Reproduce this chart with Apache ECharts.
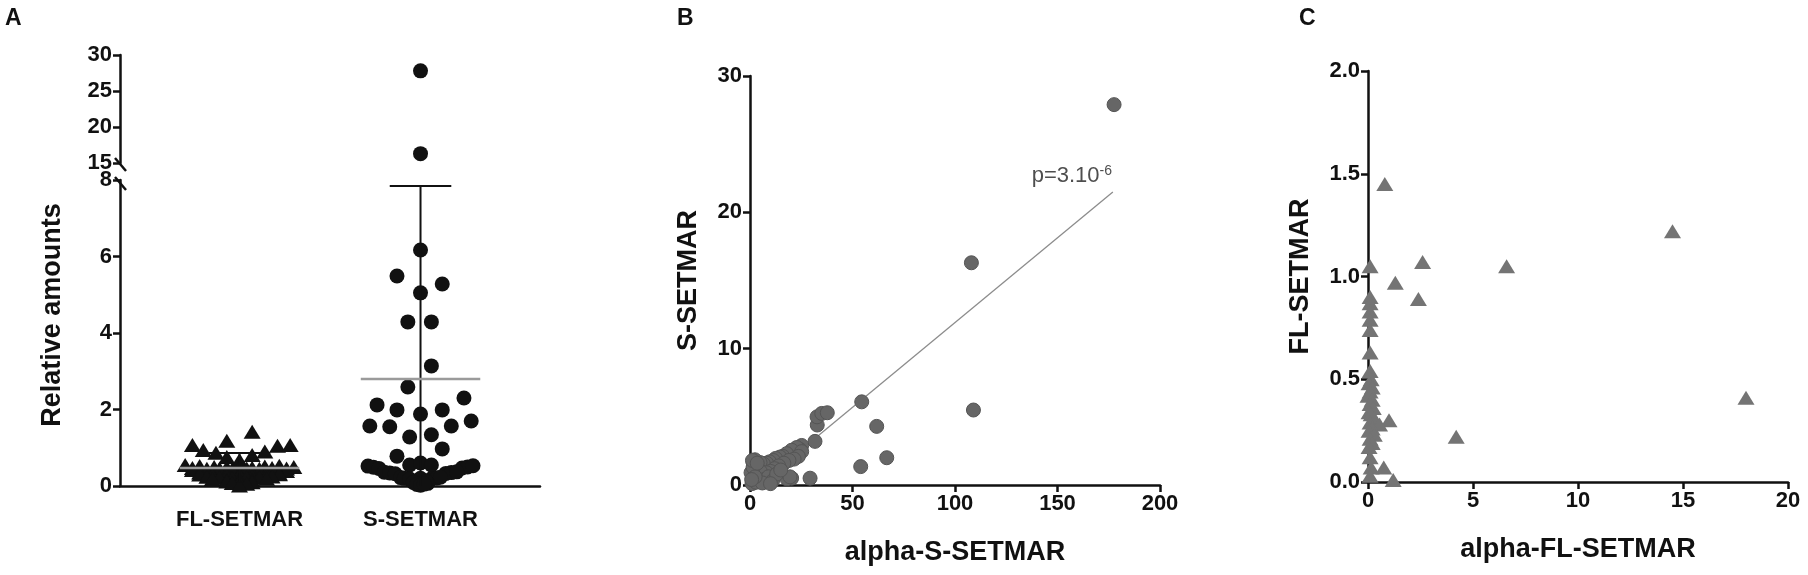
<!DOCTYPE html>
<html>
<head>
<meta charset="utf-8">
<title>SETMAR</title>
<script src="https://cdn.jsdelivr.net/npm/echarts@6/dist/echarts.min.js"></script>
<style>
    html, body { margin: 0; padding: 0; background: #fff; }
    #chart { width: 1808px; height: 575px; }
</style>
</head>
<body>
<div id="chart"></div>
<script>
/* panel A data start */
const groups = ['FL-SETMAR', 'S-SETMAR'];

// FL-SETMAR values and their horizontal spread inside the column (category units)
const flVals = [1.07, 0.94, 0.87, 1.18, 1.42, 0.76, 0.68, 0.81, 0.90, 1.05, 1.07,
    0.55, 0.52, 0.50, 0.49, 0.50, 0.48, 0.51, 0.53, 0.50,
    0.47, 0.45, 0.46, 0.44, 0.46, 0.45, 0.47, 0.46,
    0.42, 0.40, 0.39, 0.41, 0.38, 0.40, 0.42, 0.39,
    0.35, 0.33, 0.34, 0.32, 0.34, 0.35, 0.33,
    0.30, 0.28, 0.27, 0.29, 0.26, 0.28, 0.31,
    0.24, 0.22, 0.21, 0.22, 0.23, 0.25,
    0.18, 0.16, 0.17, 0.15, 0.19,
    0.12, 0.11, 0.10,
    0.08, 0.06, 0.01];
const flOff = [-0.26, -0.20, -0.13, -0.07, 0.07, -0.07, 0.00, 0.07, 0.14, 0.21, 0.28,
    -0.30, -0.22, -0.14, -0.07, 0.00, 0.07, 0.14, 0.22, 0.30,
    -0.26, -0.18, -0.11, -0.04, 0.04, 0.11, 0.18, 0.26,
    -0.26, -0.18, -0.11, -0.04, 0.04, 0.11, 0.18, 0.26,
    -0.22, -0.15, -0.07, 0.00, 0.07, 0.15, 0.22,
    -0.22, -0.15, -0.07, 0.00, 0.07, 0.15, 0.22,
    -0.18, -0.11, -0.04, 0.04, 0.11, 0.18,
    -0.15, -0.07, 0.00, 0.07, 0.15,
    -0.07, 0.00, 0.07,
    -0.04, 0.04, 0.00];

// S-SETMAR values below the axis break
const sVals = [6.17, 5.49, 5.28, 5.05, 4.29, 4.29, 3.14, 2.59, 2.30, 2.12, 1.99, 1.88, 1.99,
    1.57, 1.55, 1.57, 1.70, 1.28, 1.34, 0.97, 0.78, 0.55, 0.60, 0.55,
    0.52, 0.49, 0.46, 0.47, 0.50, 0.53,
    0.36, 0.34, 0.32, 0.33, 0.35, 0.37,
    0.22, 0.20, 0.18, 0.20, 0.19, 0.21, 0.23,
    0.10, 0.09, 0.05, 0.07, 0.12,
    0.04, 0.02, 0.05];
const sOff = [0.00, -0.13, 0.12, 0.00, -0.07, 0.06, 0.06, -0.07, 0.24, -0.24, -0.13, 0.00, 0.12,
    -0.28, -0.17, 0.17, 0.28, -0.06, 0.06, 0.12, -0.13, -0.06, 0.00, 0.06,
    -0.29, -0.26, -0.23, 0.23, 0.26, 0.29,
    -0.20, -0.17, -0.14, 0.14, 0.17, 0.20,
    -0.11, -0.09, -0.06, 0.00, 0.06, 0.09, 0.11,
    -0.03, -0.04, 0.00, 0.04, 0.03,
    -0.02, 0.00, 0.02];
// S-SETMAR values above the break
const sHighVals = [27.8, 16.3];
const sHighOff = [0, 0];

// mean and SD
const groupMean = [0.47, 2.80];
const groupSd = [0.39, 5.04];

const aLowTicks = [0, 8, 2];     // min, max, step
const aHighTicks = [15, 30, 5];
/* panel A data end */

/* panel B data start */
const bPoints = [
    [177.6, 27.9], [108, 16.3], [109, 5.5], [54.5, 6.1], [61.8, 4.3], [66.7, 2.0], [54, 1.35],
    [31.7, 3.2], [32.8, 4.4], [32.7, 5.0], [35, 5.25], [37.7, 5.3],
    [29.3, 0.5], [20.3, 0.5], [18, 0.45], [19.5, 0.6],
    [25.2, 2.9], [24.4, 2.6], [22.8, 2.75], [21, 2.4], [20.3, 2.55], [17.9, 2.3], [16, 2.1],
    [14.6, 2.05], [12.5, 1.95], [11.4, 1.8], [9.5, 1.7], [8.1, 1.6], [6.5, 1.55], [4.9, 1.65],
    [2.4, 1.85], [1.6, 1.6], [25.2, 2.45], [23.6, 2.1], [21.5, 1.9], [19, 1.8], [16.5, 1.6],
    [14, 1.4], [12, 1.2], [10, 1.0], [8, 0.9], [6, 0.7], [4, 0.5], [2, 0.3], [1, 0.1],
    [3, 1.2], [5, 1.0], [7, 0.4], [9, 0.6], [11, 0.3], [13, 0.8], [15, 1.1], [3, 0.2],
    [6, 0.15], [10, 0.1], [0.5, 0.9], [1.5, 1.3], [2.5, 0.6], [0.8, 0.4], [1.2, 1.8], [3.5, 1.6]
];
const bFit = [[4.2, 0], [177, 21.5]];
const bPLabel = [157, 22.7];
const bXTicks = [0, 200, 50];
const bYTicks = [0, 30, 10];
/* panel B data end */

/* panel C data start */
const cPoints = [
    [0.8, 1.45], [0.1, 1.05], [2.6, 1.07], [1.3, 0.97], [6.6, 1.05], [2.4, 0.89], [14.5, 1.22],
    [18.0, 0.41], [4.2, 0.22], [1.0, 0.30], [0.75, 0.07], [1.2, 0.01],
    [0.1, 0.90], [0.1, 0.87], [0.1, 0.83], [0.1, 0.79], [0.1, 0.74], [0.1, 0.63], [0.1, 0.54],
    [0.15, 0.50], [0.05, 0.48], [0.2, 0.46], [0.1, 0.44], [0.0, 0.42], [0.2, 0.40], [0.1, 0.38],
    [0.25, 0.36], [0.05, 0.34], [0.15, 0.33], [0.3, 0.31], [0.1, 0.29], [0.55, 0.28], [0.2, 0.26],
    [0.05, 0.25], [0.3, 0.23], [0.1, 0.21], [0.2, 0.19], [0.05, 0.17], [0.1, 0.12], [0.15, 0.07],
    [0.1, 0.03]
];
const cXTicks = [0, 20, 5];
const cYTicks = [0, 2, 0.5];
/* panel C data end */

const font = 'Liberation Sans, Arial, sans-serif';
const ink = '#111';

function axisBase(gridIndex, ticks) {
    return {
        type: 'value',
        gridIndex: gridIndex,
        min: ticks[0],
        max: ticks[1],
        interval: ticks[2],
        splitLine: { show: false },
        axisLine: { show: true, lineStyle: { color: ink, width: 2.5 } },
        axisTick: { show: true, length: 7, lineStyle: { color: ink, width: 2.5 } },
        axisLabel: { color: ink, fontSize: 22, fontWeight: 'bold', fontFamily: font },
        nameLocation: 'middle',
        nameTextStyle: { color: ink, fontSize: 27, fontWeight: 'bold', fontFamily: font }
    };
}

const flData = flVals.map((v, i) => [1 + flOff[i], v]);
const sData = sVals.map((v, i) => [2 + sOff[i], v]);
const sHighData = sHighVals.map((v, i) => [2 + sHighOff[i], v]);
const barData = groups.map((g, i) => [i + 1, groupMean[i], groupSd[i]]);

const chart = echarts.init(document.getElementById('chart'), null, { renderer: 'canvas' });

let aName = axisBase(1, aLowTicks);
aName.nameTextStyle.padding = [0, 0, 0, 36];   // lift the title a little

const option = {
    animation: false,
    backgroundColor: '#fff',
    title: [
        { text: 'A', left: 0, top: 2 },
        { text: 'B', left: 672, top: 2 },
        { text: 'C', left: 1294, top: 2 }
    ].map(t => Object.assign(t, {
        textStyle: { color: ink, fontSize: 23, fontWeight: 'bold', fontFamily: font }
    })),
    grid: [
        { left: 120, top: 55, width: 420, height: 108, outerBoundsMode: 'none' },
        { left: 120, top: 180, width: 420, height: 306, outerBoundsMode: 'none' },
        { left: 750, top: 76, width: 410, height: 409, outerBoundsMode: 'none' },
        { left: 1368, top: 71, width: 420, height: 411, outerBoundsMode: 'none' }
    ],
    xAxis: [
        { type: 'value', gridIndex: 0, min: 0.34, max: 2.66, show: false },
        {
            type: 'value', gridIndex: 1, min: 0.34, max: 2.66,
            splitLine: { show: false },
            axisLine: { show: true, lineStyle: { color: ink, width: 2.5 } },
            axisTick: { show: false },
            axisLabel: {
                customValues: [1, 2],
                formatter: v => groups[Math.round(v) - 1] || '',
                color: ink, fontSize: 22, fontWeight: 'bold', fontFamily: font, margin: 23
            }
        },
        Object.assign(axisBase(2, bXTicks), { name: 'alpha-S-SETMAR', nameGap: 54 }),
        Object.assign(axisBase(3, cXTicks), { name: 'alpha-FL-SETMAR', nameGap: 54 })
    ],
    yAxis: [
        axisBase(0, aHighTicks),
        Object.assign(aName, { name: 'Relative amounts', nameGap: 54 }),
        Object.assign(axisBase(2, bYTicks), { name: 'S-SETMAR', nameGap: 48 }),
        Object.assign(axisBase(3, cYTicks), {
            name: 'FL-SETMAR', nameGap: 54,
            axisLabel: { color: ink, fontSize: 22, fontWeight: 'bold', fontFamily: font, formatter: v => v.toFixed(1) }
        })
    ],
    series: [
        {
            name: 'FL-SETMAR', type: 'scatter', xAxisIndex: 1, yAxisIndex: 1,
            symbol: 'triangle', symbolSize: [17, 14], itemStyle: { color: ink, opacity: 1 },
            data: flData, z: 2
        },
        {
            name: 'S-SETMAR', type: 'scatter', xAxisIndex: 1, yAxisIndex: 1,
            symbol: 'circle', symbolSize: 15, itemStyle: { color: ink, opacity: 1 },
            data: sData, z: 2
        },
        {
            name: 'S-SETMAR high', type: 'scatter', xAxisIndex: 0, yAxisIndex: 0,
            symbol: 'circle', symbolSize: 15, itemStyle: { color: ink, opacity: 1 },
            data: sHighData, z: 2
        },
        {
            // mean (grey) and SD bar (black)
            type: 'custom', xAxisIndex: 1, yAxisIndex: 1, z: 3,
            data: barData,
            renderItem: function (params, api) {
                const x = api.value(0), m = api.value(1), sd = api.value(2);
                const mid = api.coord([x, m]);
                const top = api.coord([x, m + sd]);
                const bot = api.coord([x, Math.max(0, m - sd)]);
                const half = api.size([0.33, 0])[0];
                const cap = api.size([0.17, 0])[0];
                return {
                    type: 'group',
                    children: [
                        { type: 'line', shape: { x1: top[0], y1: top[1], x2: bot[0], y2: bot[1] }, style: { stroke: ink, lineWidth: 2 } },
                        { type: 'line', shape: { x1: top[0] - cap, y1: top[1], x2: top[0] + cap, y2: top[1] }, style: { stroke: ink, lineWidth: 2 } },
                        { type: 'line', shape: { x1: mid[0] - half, y1: mid[1], x2: mid[0] + half, y2: mid[1] }, style: { stroke: '#9a9a9a', lineWidth: 2.5 } }
                    ]
                };
            }
        },
        {
            name: 'fit', type: 'line', xAxisIndex: 2, yAxisIndex: 2, z: 1,
            symbol: 'none', data: bFit,
            lineStyle: { color: '#8c8c8c', width: 1.3 }
        },
        {
            name: 'alpha-S', type: 'scatter', xAxisIndex: 2, yAxisIndex: 2, z: 2,
            symbol: 'circle', symbolSize: 14,
            itemStyle: { color: '#666', borderColor: '#555', borderWidth: 1, opacity: 1 },
            data: bPoints
        },
        {
            name: 'p', type: 'scatter', xAxisIndex: 2, yAxisIndex: 2, z: 4,
            symbol: 'circle', symbolSize: 1, itemStyle: { color: 'rgba(0,0,0,0)' },
            data: [bPLabel],
            label: {
                show: true, position: 'inside',
                formatter: '{a|p=3.10}{b|-6}',
                rich: {
                    a: { fontSize: 22, color: '#222', fontFamily: font, lineHeight: 23 },
                    b: { fontSize: 14, color: '#222', fontFamily: font, verticalAlign: 'top', lineHeight: 14 }
                }
            }
        },
        {
            name: 'alpha-FL', type: 'scatter', xAxisIndex: 3, yAxisIndex: 3, z: 2,
            symbol: 'triangle', symbolSize: [17, 14],
            itemStyle: { color: '#747474', opacity: 1 },
            data: cPoints
        }
    ],
    graphic: [
        // axis break marks on panel A
        { type: 'line', shape: { x1: 115, y1: 158, x2: 126, y2: 171 }, style: { stroke: ink, lineWidth: 2.5 } },
        { type: 'line', shape: { x1: 115, y1: 177, x2: 126, y2: 190 }, style: { stroke: ink, lineWidth: 2.5 } }
    ]
};

chart.setOption(option);

window.onresize = function () {
    chart.resize();
}
</script>
</body>
</html>
